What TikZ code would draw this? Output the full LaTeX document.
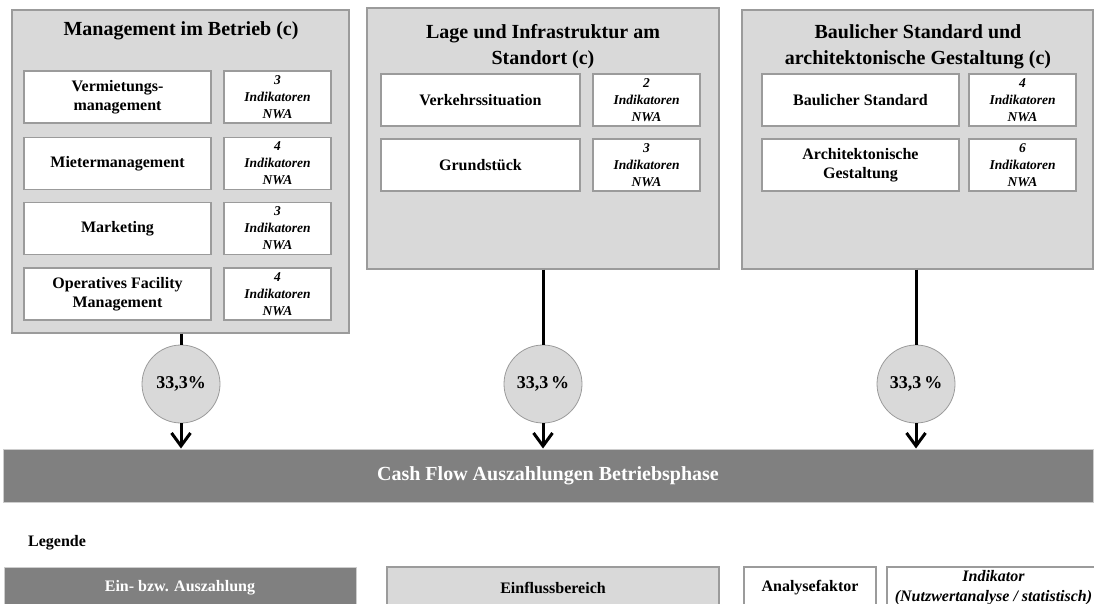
\documentclass[tikz,border=0pt]{standalone}
\usepackage{fontspec}
\setmainfont{Liberation Serif}
\usetikzlibrary{arrows.meta}
\definecolor{areafill}{RGB}{217,217,217}
\definecolor{areadraw}{RGB}{155,155,155}
\definecolor{cashfill}{RGB}{128,128,128}
\definecolor{cashdraw}{RGB}{205,205,205}
\tikzset{
  area/.style={rectangle, draw=areadraw, fill=areafill, line width=1.4pt, inner sep=0pt},
  areatitle/.style={font=\bfseries\fontsize{20}{26}\selectfont, align=center, inner sep=0pt},
  factor/.style={rectangle, draw=areadraw, fill=white, line width=1.2pt, inner sep=0pt, align=center,
    font=\bfseries\fontsize{16}{19}\selectfont, minimum height=52pt},
  indic/.style={rectangle, draw=areadraw, fill=white, line width=1.2pt, inner sep=0pt, align=center,
    font=\bfseries\itshape\fontsize{13.5}{17}\selectfont, minimum width=107pt, minimum height=52pt},
  weight/.style={circle, draw=areadraw, fill=areafill, line width=0.8pt, minimum size=78pt, inner sep=0pt,
    font=\bfseries\fontsize{18}{20}\selectfont},
  cash/.style={rectangle, draw=cashdraw, fill=cashfill, line width=1pt, inner sep=0pt, text=white,
    font=\bfseries\fontsize{20}{24}\selectfont},
  conn/.style={line width=3pt, black},
  connarrow/.style={conn, -{Straight Barb[length=13pt, width=19pt, line width=3pt]}},
  legtext/.style={font=\bfseries\fontsize{16}{19}\selectfont, align=center, inner sep=0pt},
}
\begin{document}
\begin{tikzpicture}[x=1pt, y=-1pt]
\useasboundingbox (0,0) rectangle (1094,604);
\clip (0,0) rectangle (1094,604);

% Einflussbereiche
\node[area, minimum width=337pt, minimum height=323pt] (b1) at (180.5,171.5) {};
\node[areatitle] (t1) at (181,31) {Management im Betrieb (c)};
\node[area, minimum width=352pt, minimum height=261pt] (b2) at (543,138.5) {};
\node[areatitle] (t2) at (543,46.5) {Lage und Infrastruktur am\\Standort (c)};
\node[area, minimum width=351pt, minimum height=259pt] (b3) at (917.5,139.5) {};
\node[areatitle] (t3) at (918,46.5) {Baulicher Standard und\\architektonische Gestaltung (c)};

% Analysefaktoren Bereich 1
\node[factor, minimum width=187pt] (f11) at (117.5,97) {Vermietungs-\\management};
\node[indic] (i11) at (277.5,97) {3\\Indikatoren\\NWA};
\node[factor, minimum width=187pt] (f12) at (117.5,163.5) {Mietermanagement};
\node[indic] (i12) at (277.5,163.5) {4\\Indikatoren\\NWA};
\node[factor, minimum width=187pt] (f13) at (117.5,228.5) {Marketing};
\node[indic] (i13) at (277.5,228.5) {3\\Indikatoren\\NWA};
\node[factor, minimum width=187pt] (f14) at (117.5,294) {Operatives Facility\\Management};
\node[indic] (i14) at (277.5,294) {4\\Indikatoren\\NWA};

% Analysefaktoren Bereich 2
\node[factor, minimum width=199pt] (f21) at (480.5,100) {Verkehrssituation};
\node[indic] (i21) at (646.5,100) {2\\Indikatoren\\NWA};
\node[factor, minimum width=199pt] (f22) at (480.5,165) {Grundstück};
\node[indic] (i22) at (646.5,165) {3\\Indikatoren\\NWA};

% Analysefaktoren Bereich 3
\node[factor, minimum width=197pt] (f31) at (860.5,100) {Baulicher Standard};
\node[indic] (i31) at (1022.5,100) {4\\Indikatoren\\NWA};
\node[factor, minimum width=197pt] (f32) at (860.5,165) {Architektonische\\Gestaltung};
\node[indic] (i32) at (1022.5,165) {6\\Indikatoren\\NWA};

% Gewichtungen
\node[weight] (w1) at (181,384) {33,3\%};
\node[weight] (w2) at (543,384) {33,3\,\%};
\node[weight] (w3) at (916,384) {33,3\,\%};

% Cash Flow
\node[cash, minimum width=1090pt, minimum height=53pt] (cf) at (548,475.5) {Cash Flow Auszahlungen Betriebsphase};

% Verbindungen
\draw[conn] (b1.south -| w1) -- (w1.north);
\draw[conn] (b2.south -| w2) -- (w2.north);
\draw[conn] (b3.south -| w3) -- (w3.north);
\draw[connarrow] (w1.south) -- (w1.south |- cf.north);
\draw[connarrow] (w2.south) -- (w2.south |- cf.north);
\draw[connarrow] (w3.south) -- (w3.south |- cf.north);

% Legende
\node[legtext, anchor=west] (leg) at (28,543) {Legende};
\node[cash, minimum width=352pt, minimum height=42pt, font=\bfseries\fontsize{16}{19}\selectfont] (l1) at (180,588) {Ein- bzw. Auszahlung};
\node[area, minimum width=332pt, minimum height=42pt, legtext] (l2) at (553,588) {Einflussbereich};
\node[factor, minimum width=132pt, minimum height=42pt] (l3) at (810,588) {Analysefaktor};
\node[rectangle, draw=areadraw, fill=white, line width=1.2pt, minimum width=213pt, minimum height=42pt,
  inner sep=0pt, align=center, font=\bfseries\itshape\fontsize{16}{20}\selectfont] (l4) at (993.5,588)
  {Indikator\\(Nutzwertanalyse / statistisch)};
\end{tikzpicture}
\end{document}
